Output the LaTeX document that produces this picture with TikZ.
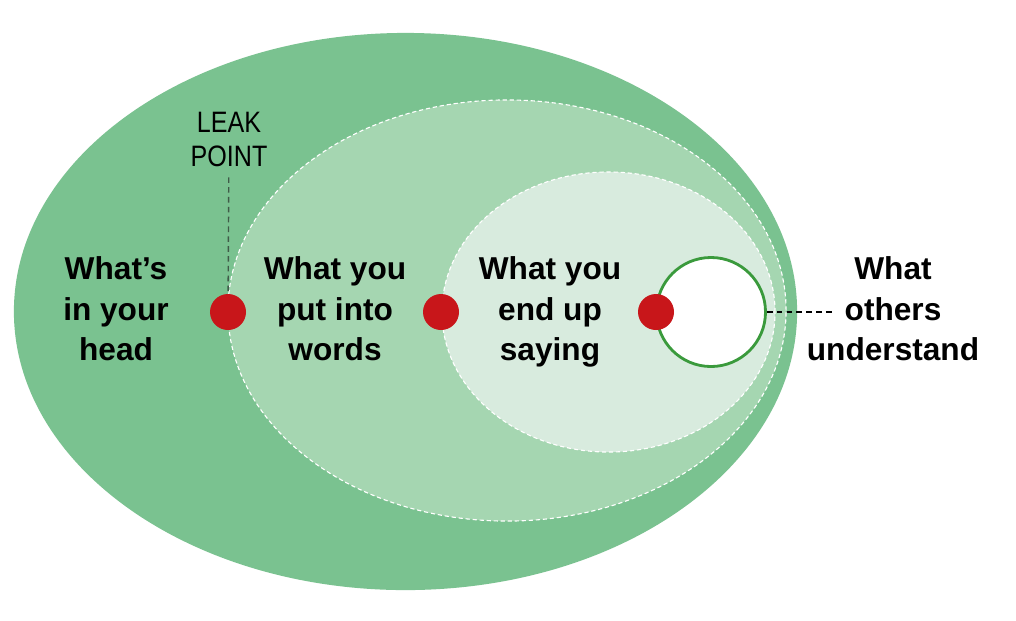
\documentclass[tikz,border=0pt]{standalone}
\usepackage{fontspec}
\setmainfont{Liberation Sans}
\newfontfamily\labelfont{Liberation Sans}
\newfontfamily\narrowfont[FakeStretch=0.85]{Liberation Sans}
\usetikzlibrary{shapes.geometric, positioning}

\definecolor{headgreen}{HTML}{7AC290}
\definecolor{wordgreen}{HTML}{A5D6B1}
\definecolor{saygreen}{HTML}{D8EBDE}
\definecolor{ringgreen}{HTML}{3A9A3C}
\definecolor{leakred}{HTML}{C8161A}
\definecolor{leakline}{HTML}{3F5A48}

\begin{document}
\begin{tikzpicture}[x=0.025cm, y=-0.025cm,
  zone/.style={ellipse, inner sep=0pt, outer sep=0pt},
  inzone/.style={zone, draw=white, line width=0.8pt, dash pattern=on 3pt off 2pt},
  dot/.style={circle, fill=leakred, minimum size=0.9cm, inner sep=0pt, outer sep=0pt},
  lbl/.style={font=\labelfont\bfseries\fontsize{22.5}{28.45}\selectfont, align=center, anchor=base, inner sep=0pt},
  note/.style={font=\narrowfont\fontsize{21}{23.5}\selectfont, align=center, anchor=base},
  guide/.style={line width=1pt, dash pattern=on 4pt off 3pt}]
\useasboundingbox[fill=white] (0,0) rectangle (1016,620);
% nested zones
\node[zone, fill=headgreen, minimum width=19.575cm, minimum height=13.925cm] (head) at (405.5,311.5) {};
\node[inzone, fill=wordgreen, minimum width=13.95cm, minimum height=10.525cm] (words) at (507,310.5) {};
\node[inzone, fill=saygreen, minimum width=8.325cm, minimum height=7cm] (saying) at (608.5,312) {};
\node[circle, draw=ringgreen, fill=white, line width=2pt, minimum size=2.725cm, inner sep=0pt] (others) at (711,312) {};
% leak points
\node[dot] (leak1) at (228,312) {};
\node[dot] (leak2) at (441,312) {};
\node[dot] (leak3) at (656,312) {};
% labels (base = last line)
\node[note] (leaklbl) at (229,166) {LEAK\\POINT};
\node[lbl] (headlbl) at (116,360) {What’s\\in your\\head};
\node[lbl] (wordslbl) at (335,360) {What you\\put into\\words};
\node[lbl] (sayinglbl) at (550,360) {What you\\end up\\saying};
\node[lbl] (otherslbl) at (893,360) {What\\others\\understand};
\coordinate (othersend) at (833,312);
\draw[guide, draw=leakline, shorten <=0.15cm] (leaklbl) -- (leak1);
\draw[guide, draw=black] (others.east) -- (othersend);
\end{tikzpicture}
\end{document}
